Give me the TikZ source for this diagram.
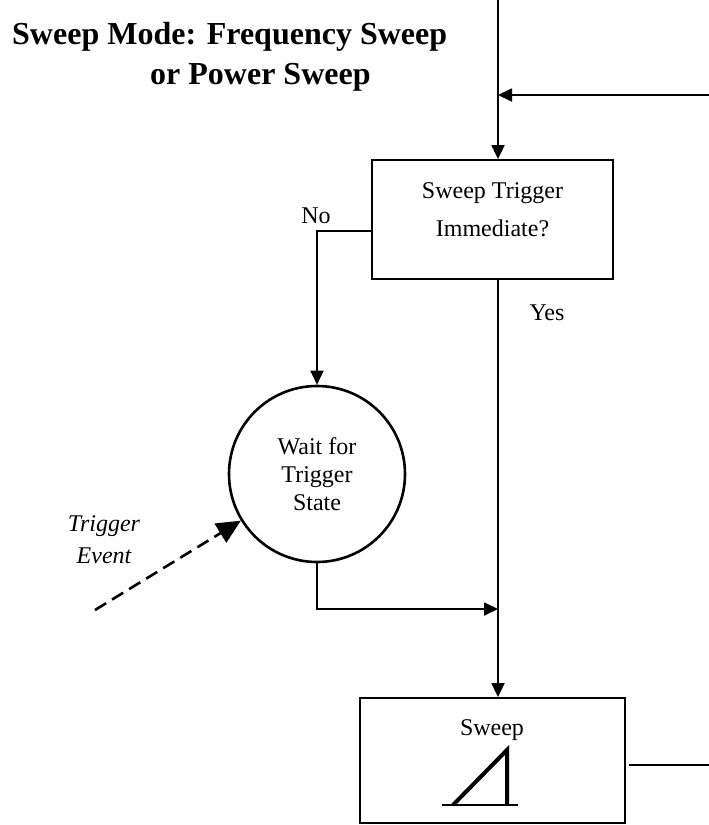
\documentclass[tikz,border=0pt]{standalone}
\usepackage{fontspec}
\setmainfont{Liberation Serif}
\usetikzlibrary{arrows.meta}

\begin{document}
\begin{tikzpicture}[x=1pt, y=-1pt,
    caja/.style={draw, line width=1.8pt, inner sep=0pt},
    flecha/.style={-{Triangle[length=14pt, width=13pt]}, line width=1.8pt},
    texto/.style={font=\fontsize{24}{38}\selectfont}]
    \useasboundingbox (0,0) rectangle (709,825);

    % Titulo
    \node[font=\fontsize{32}{40}\selectfont\bfseries, align=left, anchor=north west, inner sep=0pt] (titulo) at (12,22)
        {Sweep Mode: Frequency Sweep\\ \hspace*{138pt}or Power Sweep};

    % Puntos de paso
    \coordinate (entrada) at (498,0);
    \coordinate (retorno) at (709,95);
    \coordinate (esquina) at (316,231);
    \coordinate (union) at (498,609);
    \coordinate (evento) at (95,610);
    \coordinate (salida) at (709,765);

    % Cajas y estado
    \node[caja, minimum width=241pt, minimum height=119pt] (trig) at (492.5,219.5) {};
    \node[texto, align=center] (trigtxt) at ([shift={(0,-10)}]trig.center) {Sweep Trigger\\Immediate?};
    \node[draw, circle, line width=2.6pt, minimum size=176pt, inner sep=0pt,
          font=\fontsize{24}{28}\selectfont, align=center] (wait) at (317,474) {Wait for\\Trigger\\State};
    \node[caja, minimum width=265pt, minimum height=125pt] (sweep) at (492.5,760.5) {};
    \node[texto, anchor=base] (sweeplbl) at (492,735) {Sweep};

    % Flechas
    \draw[flecha] (entrada) -- (trig.north -| entrada);
    \draw[flecha] (retorno) -- (retorno -| entrada);
    \draw[flecha] (trig.west |- esquina) -| (wait.north);
    \node[texto, anchor=base] (no) at (316,223) {No};
    \draw[flecha] (trig.south -| entrada) -- (sweep.north -| entrada);
    \node[texto, anchor=base west] (yes) at (526,320) {Yes};
    \draw[flecha] (wait.south) |- (union);

    % Evento externo
    \draw[line width=2.6pt, dash pattern=on 13pt off 7pt, -{Triangle[length=24pt, width=22pt]}] (evento) -- (wait);
    \node[font=\fontsize{24}{32}\selectfont\itshape, align=center] (evtxt) at (104,540) {Trigger\\Event};

    % Rampa
    \draw[line width=1.8pt] ([shift={(-50.5,44.5)}]sweep.center) -- ++(76,0);
    \draw[line width=4pt] ([shift={(-39.5,44.5)}]sweep.center) -- ++(54,-55) -- ++(0,55);
    \draw[line width=1.8pt] ([xshift=3pt]sweep.east |- salida) -- (salida);
\end{tikzpicture}
\end{document}
